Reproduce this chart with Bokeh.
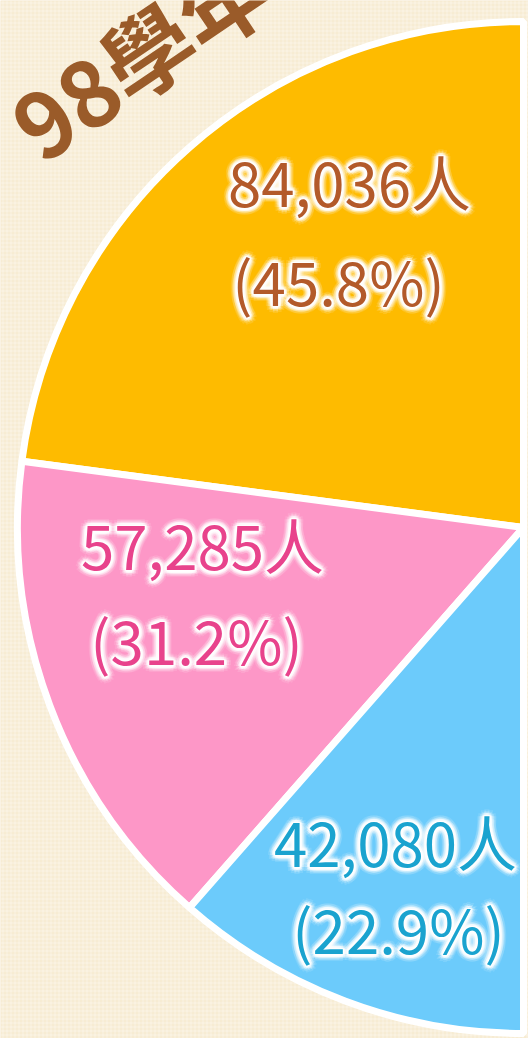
import math
from bokeh.plotting import figure
from bokeh.models import Range1d, ColumnDataSource
from bokeh.core.properties import value
from bokeh.embed import file_html
from bokeh.resources import INLINE

# ---- data ----
categories = ["A", "B", "C"]
counts = [84036, 57285, 42080]
percents = ["45.8%", "31.2%", "22.9%"]
title_text = "98學年"

# ---- style / layout ----
W, H = 528, 1038
slice_colors = ["#FEBB00", "#FD97C7", "#6CCBFB"]
text_colors = ["#B35A2A", "#E8438C", "#1AA3CF"]
bg = "#F7ECD3"
font = "Noto Sans CJK TC"

cx, cy = 523, H - 527
R = 506

# label anchor (screen coords of line centers)
label_line1 = [(349, 180), (202, 543), (395, 840)]
label_line2 = [(338, 279), (196, 638), (398, 927)]

p = figure(width=W, height=H, x_range=Range1d(0, W), y_range=Range1d(0, H),
           output_backend="svg", toolbar_location=None, min_border=0,
           background_fill_color=bg, border_fill_color=bg, outline_line_color=None)
p.axis.visible = False
p.grid.visible = False

# background texture
p.quad(left=[0], right=[W], bottom=[0], top=[H], fill_color=bg, line_color=None,
       hatch_pattern="+", hatch_color="#FFFFFF", hatch_alpha=0.35, hatch_scale=4, hatch_weight=1)

total = sum(counts)
starts, ends = [], []
acc = 0.0
for c in counts:
    starts.append(math.pi / 2 + acc / total * math.pi)
    acc += c
    ends.append(math.pi / 2 + acc / total * math.pi)

src = ColumnDataSource(dict(start=starts, end=ends, color=slice_colors))
p.wedge(x=cx, y=cy, radius=R, start_angle="start", end_angle="end", source=src,
        fill_color="color", line_color="white", line_width=7)

# labels
line1 = [f"{c:,}人" for c in counts]
line2 = [f"({q})" for q in percents]

def add_lines(texts, pos, size):
    s = ColumnDataSource(dict(x=[q[0] for q in pos], y=[H - q[1] for q in pos],
                              t=texts, col=text_colors))
    offs = []
    for r, a in [(7, 0.12), (5, 0.22), (3, 0.4), (1.5, 0.6)]:
        for k in range(12):
            ang = 2 * math.pi * k / 12
            offs.append((r * math.cos(ang), r * math.sin(ang), a))
    for dx, dy, a in offs:
        p.text(x="x", y="y", text="t", source=s, x_offset=dx, y_offset=dy,
               text_color="white", text_alpha=a, text_font=value(font),
               text_font_size=size, text_align="center", text_baseline="middle")
    p.text(x="x", y="y", text="t", source=s, text_color="col", text_font=value(font),
           text_font_size=size, text_align="center", text_baseline="middle")

add_lines(line1, label_line1, "60px")
add_lines(line2, label_line2, "60px")

# title (rotated, partially off canvas)
p.text(x=[20], y=[H - 133], text=[title_text], angle=math.radians(34),
       text_color="#9A5B29", text_font=value(font), text_font_style="bold",
       text_font_size="90px", text_align="left", text_baseline="alphabetic")

open("out.html", "w").write(file_html(p, INLINE))
